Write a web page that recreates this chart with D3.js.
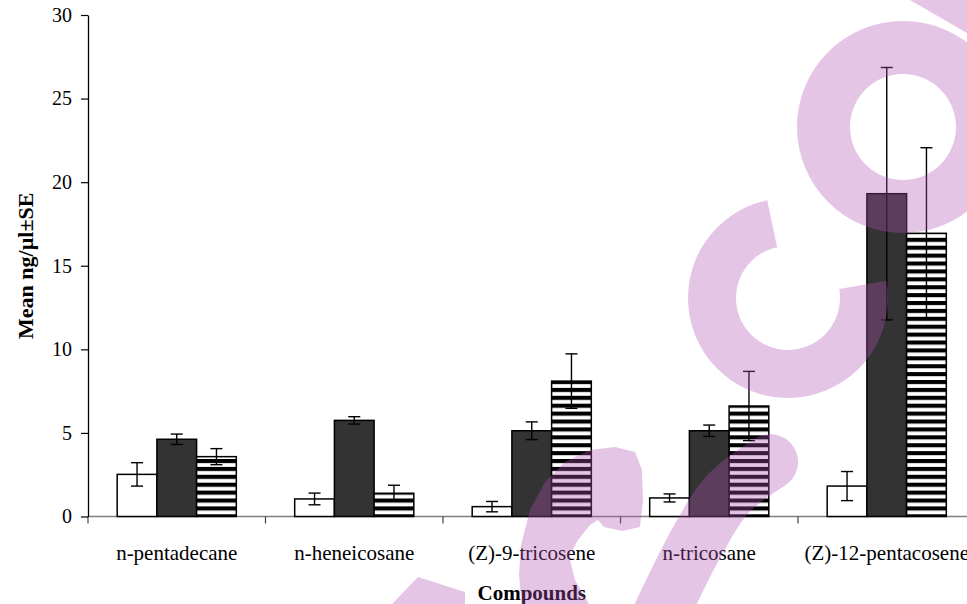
<!DOCTYPE html>
<html>
<head>
<meta charset="utf-8">
<script src="https://cdn.jsdelivr.net/npm/d3@7"></script>
<style>
  body { margin: 0; background: #fff; }
  svg { display: block; font-family: "Liberation Serif", "Times New Roman", serif; }
</style>
</head>
<body>
<svg id="chart" width="967" height="604"></svg>
<script>
// data
const categories = ['n-pentadecane', 'n-heneicosane', '(Z)-9-tricosene', 'n-tricosane', '(Z)-12-pentacosene'];
const series = ['white', 'dark', 'striped'];
const meanWhite   = [2.52, 1.05, 0.59, 1.11, 1.82];
const meanDark    = [4.62, 5.75, 5.13, 5.13, 19.31];
const meanStriped = [3.58, 1.39, 8.10, 6.61, 16.94];
const seWhite   = [0.70, 0.35, 0.31, 0.24, 0.87];
const seDark    = [0.31, 0.22, 0.53, 0.34, 7.55];
const seStriped = [0.48, 0.48, 1.63, 2.07, 5.12];
const yTicks = [0, 5, 10, 15, 20, 25, 30];

const means = { white: meanWhite, dark: meanDark, striped: meanStriped };
const ses = { white: seWhite, dark: seDark, striped: seStriped };

const svg = d3.select('#chart');
const margin = { top: 15, right: -8.5, bottom: 87.5, left: 88 };
const width = 967, height = 604;

svg.append('rect').attr('width', width).attr('height', height).attr('fill', '#fff');

// horizontal stripe pattern
const defs = svg.append('defs');
const pat = defs.append('pattern')
  .attr('id', 'stripes')
  .attr('patternUnits', 'userSpaceOnUse')
  .attr('x', 0).attr('y', 0.8)
  .attr('width', 8).attr('height', 7.9);
pat.append('rect').attr('width', 8).attr('height', 7.9).attr('fill', '#fff');
pat.append('rect').attr('width', 8).attr('height', 4.1).attr('fill', '#000');

const fills = { white: '#ffffff', dark: '#333333', striped: 'url(#stripes)' };

const x0 = d3.scaleBand()
  .domain(categories)
  .range([margin.left, width - margin.right])
  .paddingInner(0).paddingOuter(0);

const x1 = d3.scaleBand()
  .domain(series)
  .range([0, x0.bandwidth()])
  .paddingInner(0).paddingOuter(0.735);

const y = d3.scaleLinear()
  .domain([0, 30])
  .range([height - margin.bottom, margin.top]);

// x axis line + category boundary ticks
svg.append('line')
  .attr('x1', margin.left).attr('x2', width - margin.right)
  .attr('y1', y(0)).attr('y2', y(0))
  .attr('stroke', '#808080').attr('stroke-width', 1.5);

const bounds = categories.map(c => x0(c)).concat([x0.range()[1]]);
svg.append('g').selectAll('line')
  .data(bounds)
  .enter().append('line')
  .attr('x1', d => d).attr('x2', d => d)
  .attr('y1', y(0)).attr('y2', y(0) + 7)
  .attr('stroke', '#404040').attr('stroke-width', 1.2);

// category labels (the last one runs off the right edge, as in the original)
svg.append('g')
  .attr('transform', `translate(0,${y(0)})`)
  .call(d3.axisBottom(x0).tickSize(0).tickPadding(28.5))
  .call(g => g.select('.domain').remove())
  .call(g => g.selectAll('text')
    .attr('font-family', '"Liberation Serif", serif')
    .attr('font-size', 21)
    .attr('fill', '#000'));

// y axis
svg.append('g')
  .attr('transform', `translate(${margin.left},0)`)
  .call(d3.axisLeft(y).tickValues(yTicks).tickSize(7).tickPadding(9).tickSizeOuter(0))
  .call(g => g.select('.domain').attr('stroke', '#000').attr('stroke-width', 1.3))
  .call(g => g.selectAll('.tick line').attr('stroke', '#000').attr('stroke-width', 1.2))
  .call(g => g.selectAll('text')
    .attr('font-family', '"Liberation Serif", serif')
    .attr('font-size', 20)
    .attr('fill', '#000'));

// bars
const groups = svg.append('g').selectAll('g')
  .data(categories)
  .enter().append('g')
  .attr('transform', d => `translate(${x0(d)},0)`);

const cells = groups.selectAll('g')
  .data((c, i) => series.map(s => ({ s, v: means[s][i], e: ses[s][i] })))
  .enter().append('g');

cells.append('rect')
  .attr('x', d => x1(d.s))
  .attr('y', d => y(d.v))
  .attr('width', x1.bandwidth())
  .attr('height', d => y(0) - y(d.v))
  .attr('fill', d => fills[d.s])
  .attr('stroke', '#000')
  .attr('stroke-width', 1.5);

// error bars
const cx = d => x1(d.s) + x1.bandwidth() / 2;
cells.append('line')
  .attr('x1', cx).attr('x2', cx)
  .attr('y1', d => y(d.v + d.e)).attr('y2', d => y(d.v - d.e))
  .attr('stroke', '#000').attr('stroke-width', 1.4);
cells.append('line')
  .attr('x1', d => cx(d) - 6).attr('x2', d => cx(d) + 6)
  .attr('y1', d => y(d.v + d.e)).attr('y2', d => y(d.v + d.e))
  .attr('stroke', '#000').attr('stroke-width', 1.4);
cells.append('line')
  .attr('x1', d => cx(d) - 6).attr('x2', d => cx(d) + 6)
  .attr('y1', d => y(d.v - d.e)).attr('y2', d => y(d.v - d.e))
  .attr('stroke', '#000').attr('stroke-width', 1.4);

// axis titles
svg.append('text')
  .attr('x', (margin.left + width - margin.right) / 2)
  .attr('y', 600)
  .attr('text-anchor', 'middle')
  .attr('font-size', 21)
  .attr('font-weight', 'bold')
  .text('Compounds');

svg.append('text')
  .attr('transform', `translate(33,${(y(0) + y(30)) / 2}) rotate(-90)`)
  .attr('text-anchor', 'middle')
  .attr('font-size', 22)
  .attr('font-weight', 'bold')
  .text('Mean ng/µl±SE');

// pink watermark sitting on top of the chart
const wmColor = 'rgb(179,83,179)';
const wm = svg.append('g')
  .attr('opacity', 0.34)
  .attr('fill', wmColor);

const deg = Math.PI / 180;
wm.append('path')
  .attr('transform', 'translate(903,127)')
  .attr('d', d3.arc()({ innerRadius: 53, outerRadius: 106, startAngle: 0, endAngle: 2 * Math.PI }));
wm.append('path')
  .attr('transform', 'translate(788,298)')
  .attr('d', d3.arc()({ innerRadius: 52, outerRadius: 100, startAngle: 80 * deg, endAngle: 348 * deg }));
wm.append('path').attr('d', 'M910,0 L967,0 L967,33 Z');
wm.append('path').attr('d', 'M392,604 L418,577 L465,592 L465,604 Z');
wm.append('path')
  .attr('d', d3.line().curve(d3.curveLinearClosed)([
    [522, 606], [519, 575], [521, 545], [530, 510], [545, 482], [565, 462], [590, 450],
    [615, 447], [635, 452], [642, 470], [643, 500], [640, 527], [622, 531], [604, 527],
    [598, 520], [590, 525], [578, 540], [569, 556], [575, 580], [590, 606]]));
wm.append('path')
  .attr('d', d3.line().curve(d3.curveCatmullRom)([[660, 616], [698, 540], [728, 494], [770, 462]]))
  .attr('fill', 'none')
  .attr('stroke', wmColor)
  .attr('stroke-width', 56)
  .attr('stroke-linecap', 'round');
</script>
</body>
</html>
